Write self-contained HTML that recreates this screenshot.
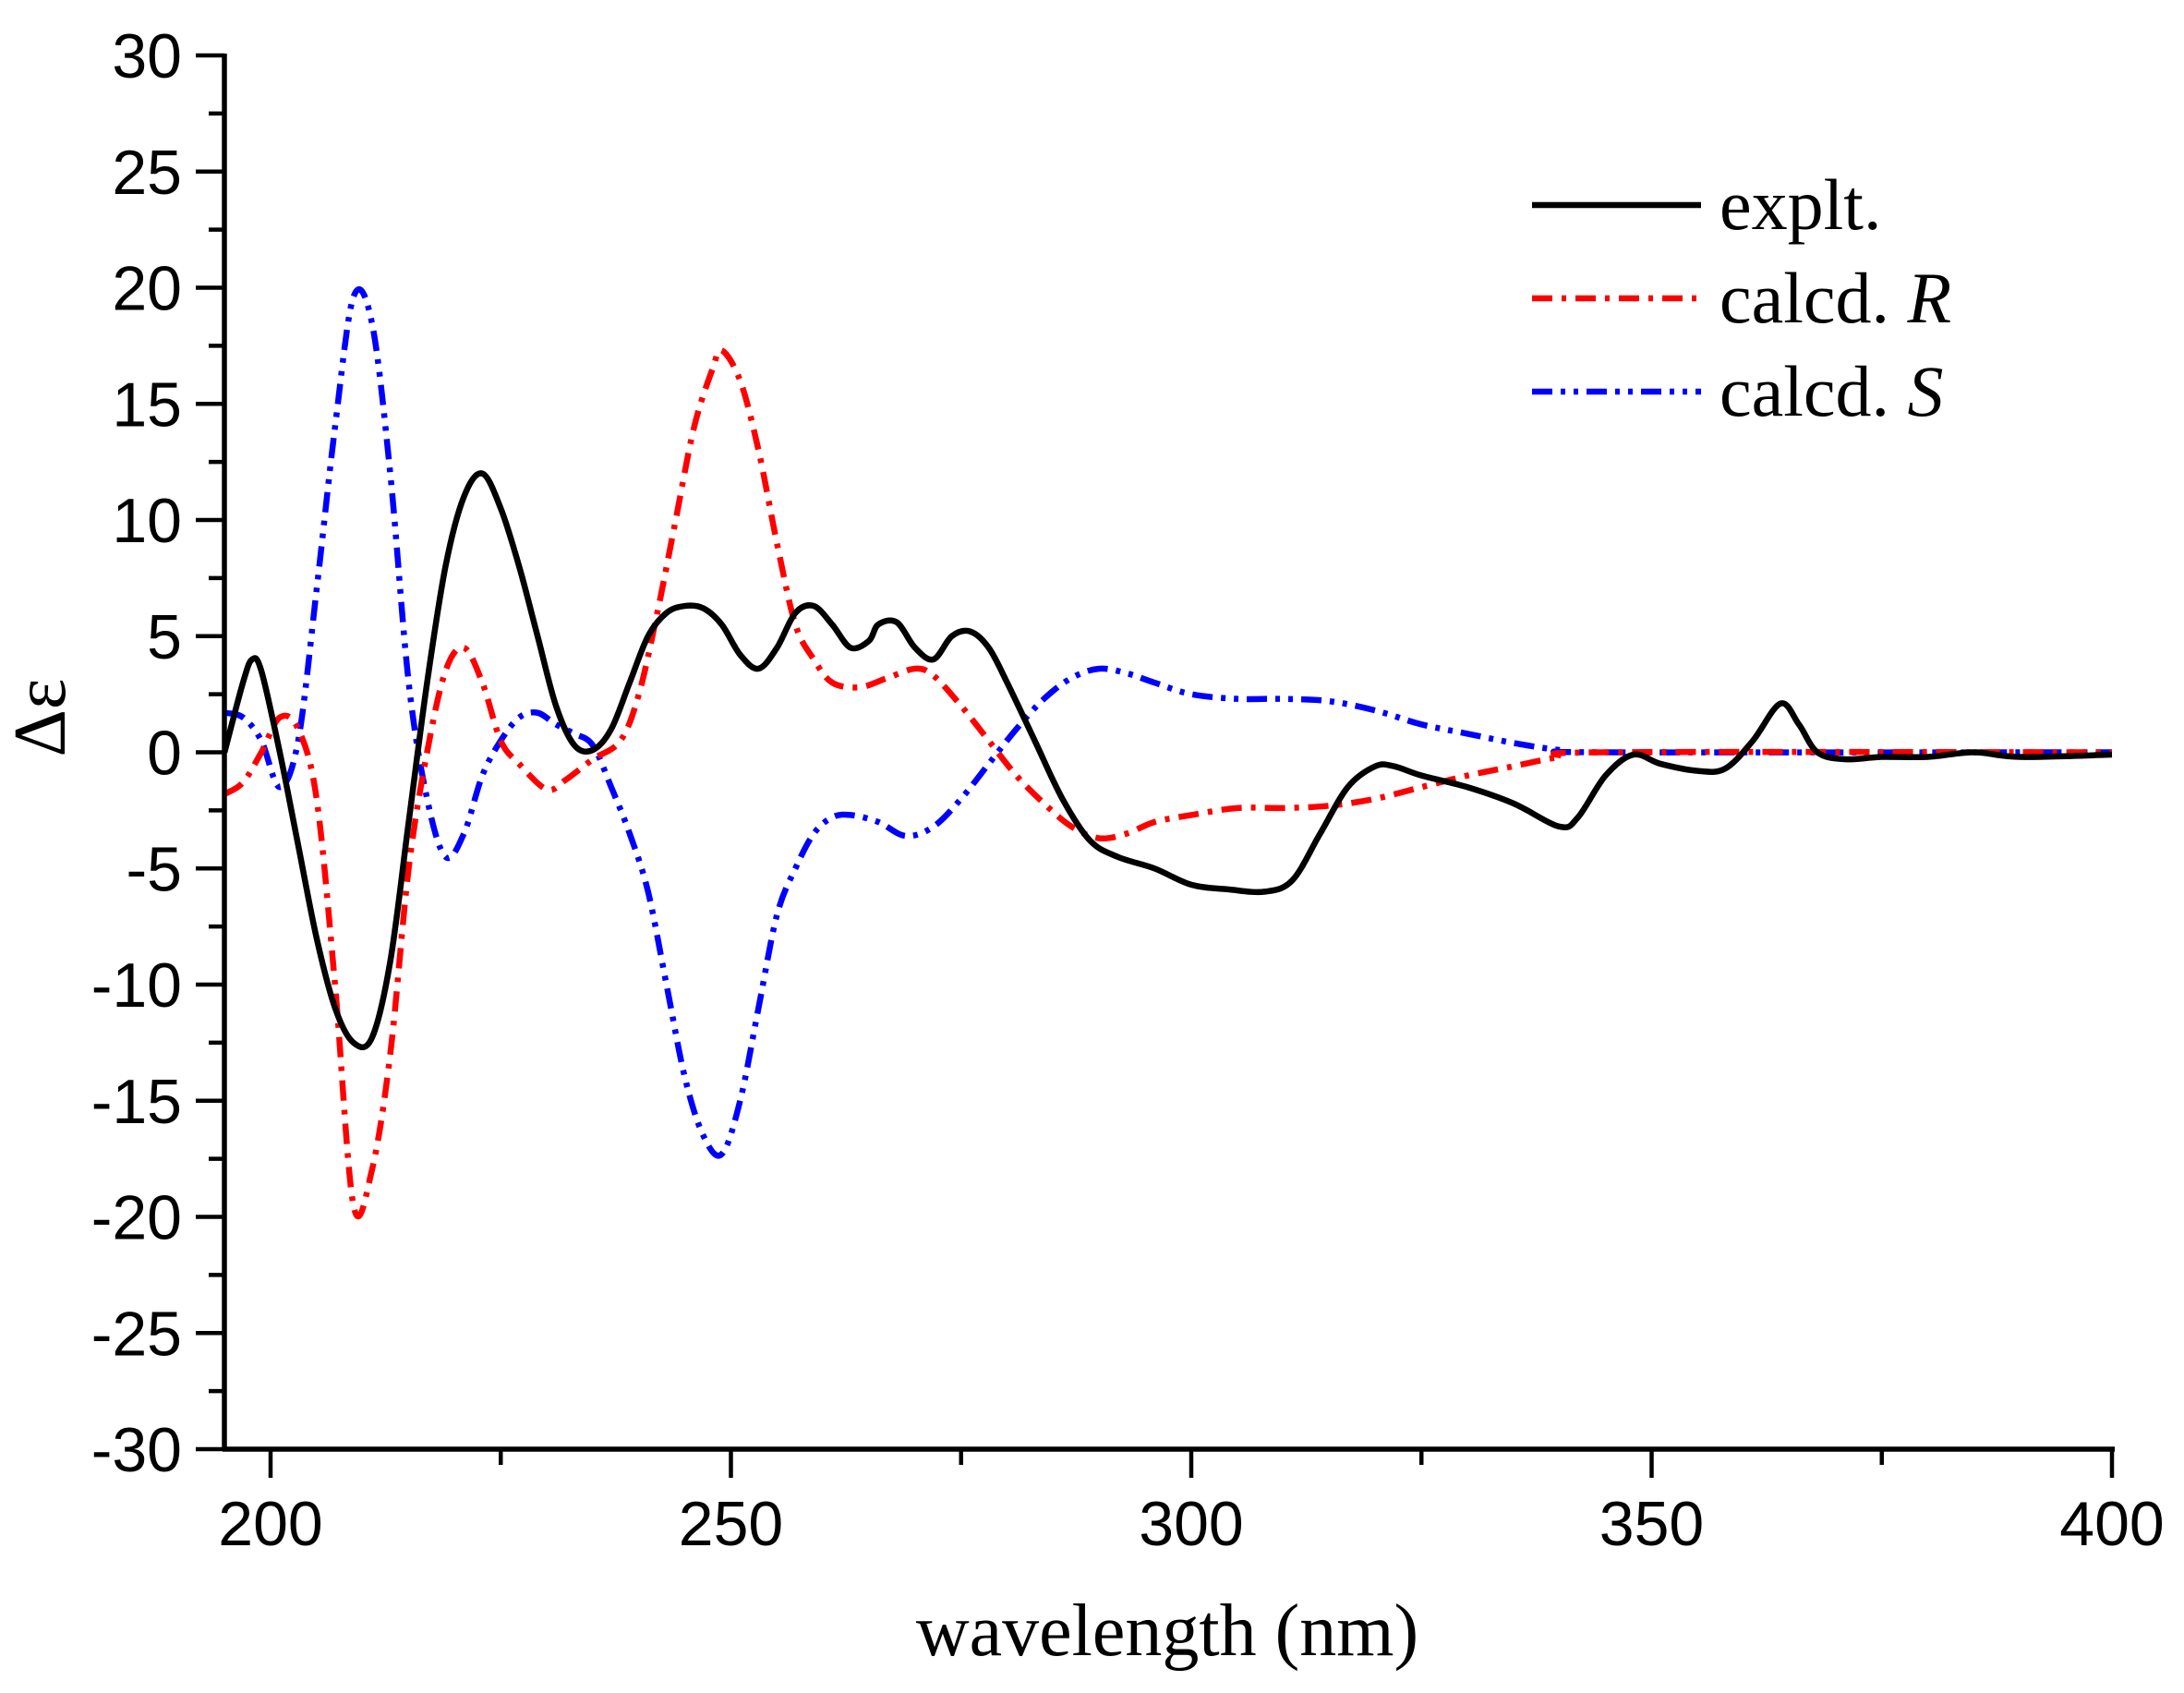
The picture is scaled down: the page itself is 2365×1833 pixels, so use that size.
<!DOCTYPE html>
<html><head><meta charset="utf-8"><style>html,body{margin:0;padding:0;background:#fff}</style></head>
<body>
<svg id="s" width="2365" height="1828" xmlns="http://www.w3.org/2000/svg">
<g font-family="Liberation Sans, sans-serif" font-size="68" fill="#000" text-anchor="end" id="yl"></g>
<g font-family="Liberation Sans, sans-serif" font-size="68" fill="#000" text-anchor="middle" id="xl"></g>
<g id="ticks" stroke="#000" stroke-width="4.5"></g>
<g id="curves" fill="none" stroke-width="6.5" stroke-linejoin="round"></g>
<line x1="243" y1="58" x2="243" y2="1571" stroke="#000" stroke-width="5.5"/>
<line x1="241" y1="1569" x2="2290" y2="1569" stroke="#000" stroke-width="5.5"/>
<text x="1264" y="1792" font-family="Liberation Serif, serif" font-size="80" text-anchor="middle">wavelength (nm)</text>
<text transform="translate(70,777) rotate(-90)" font-family="Liberation Serif, serif" font-size="80" text-anchor="middle">Δε</text>
<g stroke-width="6.5">
<line x1="1659" y1="222" x2="1842" y2="222" stroke="#000"/>
<line x1="1659" y1="323" x2="1842" y2="323" stroke="#f00" stroke-dasharray="22,10,5,10"/>
<line x1="1659" y1="424" x2="1842" y2="424" stroke="#00f" stroke-dasharray="22,9,5,9,5,9"/>
</g>
<g font-family="Liberation Serif, serif" font-size="78">
<text x="1862" y="248">explt.</text>
<text x="1862" y="349">calcd. <tspan font-style="italic">R</tspan></text>
<text x="1862" y="450">calcd. <tspan font-style="italic">S</tspan></text>
</g>
</svg>
<script>
var X=function(l){return 293+(l-200)*9.97},Y=function(v){return 814.5-v*25.15};
var ns="http://www.w3.org/2000/svg";
function el(p,t,a){var e=document.createElementNS(ns,t);for(var k in a)e.setAttribute(k,a[k]);p.appendChild(e);return e}
var tk=document.getElementById('ticks'),yl=document.getElementById('yl'),xl=document.getElementById('xl');
for(var v=-30;v<=30;v+=2.5){var y=Y(v),maj=(v%5===0);el(tk,'line',{x1:243-(maj?31:17),y1:y,x2:243,y2:y});
 if(maj){var t=el(yl,'text',{x:197,y:y+24});t.textContent=v;}}
for(var l=200;l<=400;l+=25){var x=X(l),maj=(l%50===0);el(tk,'line',{x1:x,y1:1569,x2:x,y2:1569+(maj?31:17)});
 if(maj){var t=el(xl,'text',{x:x,y:1673});t.textContent=l;}}
var B=[195,0,197,3,198,4,199,3.5,201,0,203,-4,205,-8,207,-11,209,-12.5,211,-12.3,213,-9,215,-3,217,3,219,8,221,11,223,12,225,10.5,227,8,229,5,231,2,233,0.3,235,0.1,237,1,239,3,241,5,243,6,245,6.3,247,6.2,249,5.5,251,4.2,253,3.6,255,4.5,257,6,259,6.3,261,5.5,263,4.5,265,4.8,266,5.5,268,5.6,270,4.5,272,4,274,5,276,5.2,278,4.5,280,3,283,0.5,286,-2,289,-3.8,292,-4.5,296,-5,300,-5.7,304,-5.9,308,-6,311,-5.5,314,-3.5,317,-1.5,320,-0.6,322,-0.6,325,-1,330,-1.5,335,-2.2,340,-3.2,342,-2.8,345,-1,348,-0.1,351,-0.5,355,-0.8,358,-0.7,361,0.5,364,2.1,366,1.2,368,0,371,-0.3,375,-0.2,380,-0.2,385,0,390,-0.2,400,-0.1];
var R=[195,-1.8,197,-1.3,199,0,201,1.5,203,1,205,-2,207,-10,209,-19.5,211,-18,213,-13,215,-5,217,0,219,3.5,221,4.5,223,3,225,0.5,227,-0.5,230,-1.6,232,-1.2,235,-0.3,238,0.5,240,2.5,242,6,244,10,246,14,248,16.5,249,17.3,251,16,253,13,255,9,257,5.5,259,4,261,3,264,2.8,267,3.2,270,3.6,272,3.3,275,2,278,0.5,281,-1,284,-2.2,287,-3.2,290,-3.7,293,-3.5,296,-3,300,-2.7,305,-2.4,310,-2.4,315,-2.3,320,-2,325,-1.5,330,-1,335,-0.6,340,-0.2,345,0,400,0];
var S=[195,1.7,197,1.5,199,0.5,201,-1.5,203,0.5,205,7,207,14,209,19.6,211,18.5,213,12,215,3,217,-2,219,-4.5,221,-3.5,223,-1,225,0.5,227,1.5,229,1.7,231,1.2,233,0.8,235,0.3,237,-1.5,239,-3.5,241,-6,243,-10,245,-14,247,-16.5,249,-17.3,251,-15,253,-11,255,-7,257,-5,259,-3.5,261,-2.8,263,-2.7,266,-3,269,-3.6,272,-3.2,275,-2,278,-0.5,281,1,284,2.3,287,3.2,290,3.6,293,3.4,296,3,300,2.5,305,2.3,310,2.3,315,2.2,320,1.8,325,1.2,330,0.8,335,0.4,340,0.1,345,0,400,0];
function path(a){var p=[];for(var i=0;i<a.length;i+=2)p.push([X(a[i]),Y(a[i+1])]);
 var d='M'+p[0][0]+','+p[0][1];
 for(var i=0;i<p.length-1;i++){var p0=p[i-1]||p[i],p1=p[i],p2=p[i+1],p3=p[i+2]||p2;
  d+='C'+(p1[0]+(p2[0]-p0[0])/6)+','+(p1[1]+(p2[1]-p0[1])/6)+' '+(p2[0]-(p3[0]-p1[0])/6)+','+(p2[1]-(p3[1]-p1[1])/6)+' '+p2[0]+','+p2[1];}
 return d}
var c=document.getElementById('curves');
el(c,'path',{d:path(S),stroke:'#00f','stroke-dasharray':'22,9,5,9,5,9'});
el(c,'path',{d:path(R),stroke:'#f00','stroke-dasharray':'22,10,5,10'});
el(c,'path',{d:path(B),stroke:'#000'});
</script>
</body></html>
